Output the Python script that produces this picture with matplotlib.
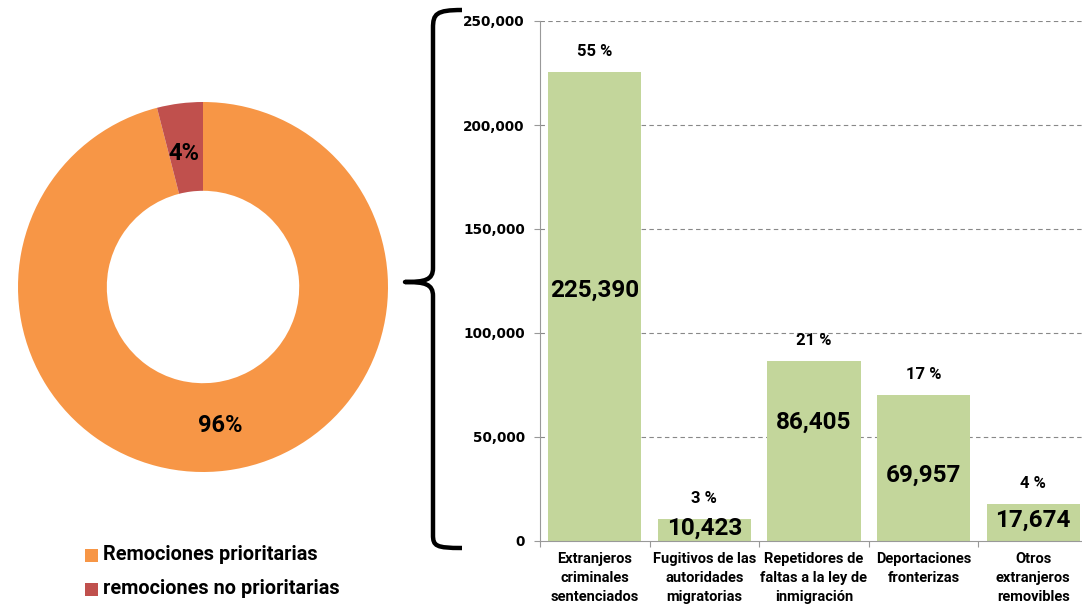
import matplotlib
matplotlib.use("Agg")
import matplotlib.pyplot as plt
from matplotlib.path import Path
from matplotlib.patches import PathPatch, Rectangle
from matplotlib.ticker import FuncFormatter, FixedLocator

# ---- data ----
pie_labels = ["Remociones prioritarias", "remociones no prioritarias"]
pie_values = [96, 4]
pie_colors = ["#F79646", "#C0504D"]

categories = ["Extranjeros\ncriminales\nsentenciados",
              "Fugitivos de las\nautoridades\nmigratorias",
              "Repetidores de\nfaltas a la ley de\ninmigración",
              "Deportaciones\nfronterizas",
              "Otros\nextranjeros\nremovibles"]
values = [225390, 10423, 86405, 69957, 17674]
pct_labels = ["55 %", "3 %", "21 %", "17 %", "4 %"]
yticks = [0, 50000, 100000, 150000, 200000, 250000]

# label vertical positions (data units) for value labels inside bars
value_label_y = [120700, 6000, 57200, 31700, 10000]

FONT = "Roboto"
W, H = 1082, 608
fig = plt.figure(figsize=(W / 100, H / 100), dpi=100)

def fx(x):
    return x / W

def fy(y):
    return 1 - y / H

# ---- donut ----
cx, cy, r = 203, 287, 185
axp = fig.add_axes([fx(cx - r), fy(cy + r), 2 * r / W, 2 * r / H])
axp.pie(pie_values, colors=pie_colors, startangle=90, counterclock=False,
        radius=1.0, wedgeprops=dict(width=0.48, edgecolor="none"))
axp.set_xlim(-1, 1)
axp.set_ylim(-1, 1)
axp.set_aspect("auto")
axp.axis("off")
fig.text(fx(220), fy(425), f"{pie_values[0]}%", ha="center", va="center",
         fontsize=17, fontweight="bold", family=FONT)
fig.text(fx(184), fy(153), f"{pie_values[1]}%", ha="center", va="center",
         fontsize=17, fontweight="bold", family=FONT)

# legend
for i, (lab, col) in enumerate(zip(pie_labels, pie_colors)):
    yy = 555 + i * 34
    fig.patches.append(Rectangle((fx(85), fy(yy + 7)), 13 / W, 13 / H,
                                 transform=fig.transFigure, facecolor=col,
                                 edgecolor="none"))
    fig.text(fx(103), fy(yy), lab, ha="left", va="center", fontsize=14.3,
             fontweight="bold", family=FONT)

# ---- bars ----
ax = fig.add_axes([fx(540), fy(541), 548 / W, 520 / H])
x = list(range(len(values)))
ax.bar(x, values, width=0.85, color="#C3D69B", zorder=2)
ax.set_xlim(-0.5, len(values) - 0.5)
ax.set_ylim(0, 250000)
ax.yaxis.set_major_locator(FixedLocator(yticks))
ax.yaxis.set_major_formatter(FuncFormatter(lambda v, p: f"{int(v):,}"))
for t in yticks[1:]:
    ax.axhline(t, color="#888888", linestyle=(0, (4, 3)), linewidth=0.8, zorder=1)
for s in ["top", "right"]:
    ax.spines[s].set_visible(False)
ax.spines["left"].set_color("#999999")
ax.spines["bottom"].set_color("#999999")
ax.tick_params(axis="y", direction="out", length=4, color="#999999",
               labelsize=9.8, pad=7)
for lab in ax.get_yticklabels():
    lab.set_fontweight("bold")
ax.set_xticks([i - 0.5 for i in range(len(values) + 1)])
ax.set_xticklabels([])
ax.tick_params(axis="x", direction="out", length=4, color="#999999")
for i, c in enumerate(categories):
    ax.text(i, -5300, c, ha="center", va="top", fontsize=10.5, fontweight="bold",
            family=FONT, linespacing=1.45)
for i, v in enumerate(values):
    ax.text(i, value_label_y[i], f"{v:,}", ha="center", va="center",
            fontsize=17.5, fontweight="bold", family=FONT, zorder=3)
    ax.text(i, v + 10000, pct_labels[i], ha="center", va="center",
            fontsize=12, fontweight="bold", family=FONT)

# ---- brace ----
pts = [(462, 10), (436, 10), (433, 14), (433, 28),
       (433, 268),
       (433, 280), (425, 282), (405, 282),
       (425, 282), (433, 284), (433, 296),
       (433, 535),
       (433, 546), (436, 548), (462, 548)]
codes = [Path.MOVETO, Path.CURVE4, Path.CURVE4, Path.CURVE4,
         Path.LINETO,
         Path.CURVE4, Path.CURVE4, Path.CURVE4,
         Path.CURVE4, Path.CURVE4, Path.CURVE4,
         Path.LINETO,
         Path.CURVE4, Path.CURVE4, Path.CURVE4]
path = Path([(fx(a), fy(b)) for a, b in pts], codes)
fig.patches.append(PathPatch(path, transform=fig.transFigure, fill=False,
                             edgecolor="black", linewidth=3.2,
                             capstyle="butt", joinstyle="round"))

fig.savefig("out.png", dpi=100)
